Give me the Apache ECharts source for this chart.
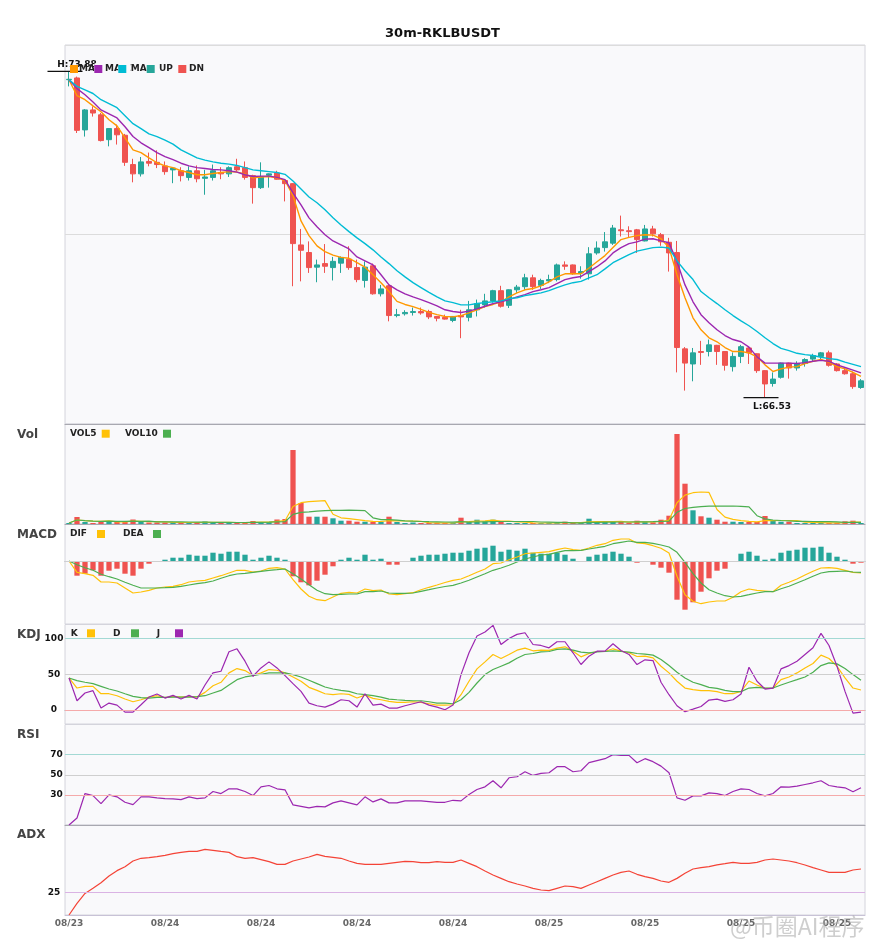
<!DOCTYPE html>
<html>
<head>
<meta charset="utf-8">
<title>30m-RKLBUSDT</title>
<script src="https://cdn.jsdelivr.net/npm/echarts@6/dist/echarts.min.js"></script>
<style>
html,body{margin:0;padding:0;background:#fff;}
#chart{width:885px;height:950px;}
</style>
</head>
<body>
<div id="chart"></div>
<script>
const symbolName = '30m-RKLBUSDT'
const startDay = 23, startHour = 18   // first candle: 08/23 18:00, 30 minute bars

// [open, close, low, high]
const candles = [
[73.69,73.70,73.54,73.88],[73.73,72.55,72.49,73.76],[72.56,73.01,72.41,73.03],[73.01,72.94,72.86,73.09],[72.90,72.32,72.30,72.94],
[72.34,72.59,72.19,72.60],[72.59,72.45,72.23,72.68],[72.44,71.83,71.75,72.47],[71.78,71.57,71.38,71.91],[71.57,71.84,71.51,71.95],
[71.85,71.81,71.74,72.05],[71.83,71.78,71.70,72.10],[71.75,71.62,71.55,71.85],[71.66,71.70,71.36,71.71],[71.64,71.53,71.40,71.72],
[71.49,71.64,71.42,71.74],[71.64,71.46,71.38,71.76],[71.47,71.50,71.10,71.66],[71.49,71.64,71.42,71.78],[71.60,71.57,71.45,71.72],
[71.57,71.71,71.50,71.74],[71.73,71.66,71.62,71.91],[71.71,71.49,71.44,71.85],[71.53,71.26,70.90,71.55],[71.26,71.51,71.23,71.83],
[71.54,71.57,71.26,71.58],[71.59,71.45,71.44,71.64],[71.42,71.35,70.95,71.44],[71.35,70.00,69.04,71.36],[69.97,69.85,69.15,70.33],
[69.80,69.46,69.34,70.05],[69.47,69.52,69.13,69.64],[69.55,69.49,69.34,69.99],[69.46,69.60,69.17,69.70],[69.56,69.69,69.34,69.71],
[69.65,69.46,69.41,69.94],[69.46,69.19,69.13,69.64],[69.17,69.47,69.01,69.60],[69.50,68.87,68.85,69.55],[68.87,68.98,68.81,69.07],
[69.05,68.38,68.25,69.07],[68.38,68.40,68.34,68.53],[68.42,68.45,68.38,68.50],[68.45,68.47,68.38,68.56],[68.47,68.44,68.40,68.56],
[68.47,68.35,68.30,68.51],[68.36,68.32,68.25,68.37],[68.34,68.30,68.29,68.40],[68.27,68.36,68.23,68.37],[68.38,68.35,67.87,68.51],
[68.34,68.51,68.25,68.71],[68.51,68.65,68.36,68.74],[68.62,68.71,68.56,68.87],[68.71,68.94,68.67,68.96],[68.94,68.59,68.56,69.05],
[68.61,68.96,68.55,68.97],[68.96,69.02,68.89,69.07],[69.03,69.23,68.96,69.32],[69.23,69.03,68.96,69.30],[69.06,69.17,68.98,69.21],
[69.16,69.19,69.11,69.30],[69.19,69.52,69.15,69.55],[69.52,69.49,69.41,69.60],[69.52,69.32,69.30,69.53],[69.34,69.37,69.21,69.49],
[69.32,69.77,69.19,69.92],[69.79,69.90,69.75,70.05],[69.91,70.04,69.82,70.26],[70.01,70.35,69.97,70.42],[70.31,70.29,70.16,70.63],
[70.29,70.27,70.15,70.39],[70.31,70.09,69.79,70.33],[70.06,70.33,70.05,70.42],[70.33,70.22,70.16,70.40],[70.20,70.04,69.95,70.24],
[70.03,69.79,69.37,70.13],[69.80,67.66,67.10,70.06],[67.63,67.31,66.69,67.67],[67.29,67.54,66.90,67.65],[67.57,67.55,67.27,67.81],
[67.57,67.72,67.46,67.84],[67.71,67.57,67.27,67.72],[67.57,67.26,67.14,67.58],[67.23,67.46,67.12,67.55],[67.46,67.68,67.31,67.72],
[67.65,67.54,67.29,67.68],[67.52,67.14,67.09,67.53],[67.14,66.84,66.53,67.15],[66.85,66.95,66.78,67.10],[66.99,67.31,66.96,67.32],
[67.31,67.20,66.96,67.32],[67.20,67.30,67.14,67.35],[67.30,67.39,67.23,67.42],[67.40,67.48,67.35,67.52],[67.46,67.54,67.39,67.56],
[67.54,67.26,67.23,67.59],[67.29,67.14,67.12,67.31],[67.14,67.07,67.05,67.20],[67.07,66.78,66.73,67.12],[66.76,66.91,66.73,66.95]
]

const ma5 = [73.69,73.33,73.24,73.10,72.97,72.79,72.65,72.38,72.11,72.05,71.93,71.82,71.75,71.71,71.64,71.60,71.55,71.55,71.58,71.60,
71.62,71.61,71.57,71.48,71.50,71.51,71.48,71.42,71.08,70.51,70.18,69.95,69.82,69.74,69.69,69.67,69.57,69.47,69.30,69.12,
68.92,68.70,68.63,68.58,68.52,68.45,68.40,68.36,68.35,68.38,68.44,68.51,68.58,68.63,68.69,68.80,68.89,68.96,68.99,69.05,
69.14,69.25,69.32,69.32,69.32,69.45,69.59,69.73,69.91,70.09,70.14,70.18,70.20,70.19,70.11,69.91,69.30,68.78,68.33,68.06,
67.88,67.79,67.66,67.57,67.57,67.54,67.45,67.27,67.12,67.18,67.22,67.23,67.30,67.35,67.39,67.33,67.23,67.18,67.10,67.01]
const ma10 = [73.69,73.49,73.35,73.19,73.01,72.92,72.83,72.63,72.41,72.27,72.16,72.05,71.96,71.89,71.81,71.75,71.71,71.69,71.67,71.66,
71.64,71.61,71.55,71.51,71.52,71.52,71.49,71.44,71.14,70.87,70.58,70.38,70.20,70.06,69.97,69.88,69.70,69.61,69.52,69.30,
69.07,68.96,68.87,68.80,68.74,68.67,68.60,68.51,68.47,68.45,68.48,68.53,68.59,68.65,68.69,68.74,68.80,68.85,68.92,68.96,
69.01,69.10,69.19,69.23,69.26,69.37,69.48,69.61,69.79,69.91,70.00,70.04,70.10,70.11,70.06,70.02,69.59,69.07,68.69,68.40,
68.22,68.06,67.93,67.84,67.79,67.67,67.45,67.31,67.31,67.31,67.31,67.30,67.32,67.35,67.37,67.35,67.27,67.21,67.15,67.09]
const ma20 = [73.69,73.54,73.46,73.38,73.24,73.15,73.06,72.88,72.70,72.59,72.47,72.41,72.33,72.24,72.11,72.02,71.93,71.88,71.84,71.81,
71.79,71.76,71.71,71.66,71.64,71.62,71.60,71.56,71.41,71.23,71.05,70.92,70.76,70.58,70.42,70.27,70.13,70.00,69.86,69.70,
69.55,69.39,69.25,69.12,69.01,68.90,68.80,68.71,68.67,68.62,68.62,68.65,68.67,68.69,68.71,68.76,68.78,68.83,68.86,68.89,
68.94,69.01,69.07,69.12,69.15,69.23,69.30,69.43,69.57,69.66,69.75,69.83,69.87,69.91,69.92,69.90,69.61,69.39,69.19,68.92,
68.78,68.65,68.51,68.38,68.26,68.15,68.02,67.88,67.75,67.64,67.59,67.53,67.50,67.48,67.44,67.41,67.39,67.33,67.28,67.23]

const volume = [1,7,2,1,2.5,3,2,2,4.5,2,1.5,1.5,1.5,1.5,1.5,1.5,1.5,2.5,1.5,1,
1.5,1,1.5,3,2,2,4.5,5,74,21,7.3,7.3,7.3,5.7,3.3,3.3,2.3,2.3,2.3,2.3,
7.3,2,1,1.5,1,1,1,1,1,6.3,2,4.3,2.5,4.3,2,1,1,1,1,1,
1,1,2.3,1,1,5.3,2,2,2,2,1.3,3.3,2,1.7,4.3,8.3,90,40.3,13.7,7.7,
6.3,4.3,2.3,2.3,2,2,2,8,3,2.3,2.3,1,1,1,1.3,1,1,2.7,3.3,1]
const vol5 = [1,4,3.3,2.8,2.7,3.1,2.1,2.1,2.8,2.7,2.4,2.3,2.2,1.6,1.5,1.5,1.5,1.7,1.7,1.6,
1.6,1.5,1.3,1.6,1.8,1.9,2.6,3.3,17.5,21.3,22.4,22.9,23.4,9.7,6.2,5.4,4.4,3.4,2.7,2.5,
3.3,3.2,3.0,2.8,2.6,1.3,1.1,1.1,1,2.1,2.3,2.9,3.2,3.9,3.0,2.8,2.2,1.9,1.2,1,
1,1,1.3,1.3,1.3,2.1,2.3,2.3,2.5,2.7,1.9,2.1,2.1,2.1,2.5,3.9,21.3,28.9,31.3,32,
31.6,14.5,6.9,4.6,3.4,2.6,2.1,3.3,3.4,3.5,3.5,3.3,1.9,1.5,1.3,1.1,1.1,1.4,1.9,1.8]
const vol10 = [1,4,3.3,2.8,2.7,2.8,2.6,2.6,2.8,2.7,2.8,2.2,2.2,2.2,2.1,2,1.9,2,1.7,1.6,
1.6,1.5,1.5,1.7,1.7,1.8,2.1,2.3,9.6,11.6,12.1,12.8,13.3,13.6,13.7,13.9,13.7,13.4,6.2,4.3,
4.3,3.8,3.2,2.8,2.5,2.3,2.2,2,1.9,2.3,1.8,2,2.2,2.4,2.5,2.5,2.5,2.5,2.5,2,
1.9,1.6,1.6,1.2,1.1,1.6,1.7,1.8,1.9,2,2,2.2,2.2,2.3,2.6,2.9,11.7,15.5,16.7,17.3,
17.8,17.9,17.9,18,17.7,17.1,8.3,5.1,4,3.5,3.1,2.7,2.6,2.5,2.4,2.3,2.2,1.7,1.7,1.6]

const dif = [0,-0.113,-0.127,-0.143,-0.21,-0.21,-0.22,-0.27,-0.32,-0.31,-0.293,-0.27,-0.26,-0.253,-0.237,-0.21,-0.2,-0.193,-0.17,-0.147,
-0.12,-0.093,-0.093,-0.11,-0.1,-0.073,-0.067,-0.08,-0.187,-0.28,-0.353,-0.387,-0.397,-0.36,-0.323,-0.313,-0.32,-0.28,-0.297,-0.29,
-0.33,-0.337,-0.327,-0.317,-0.287,-0.263,-0.24,-0.215,-0.193,-0.18,-0.147,-0.113,-0.08,-0.027,-0.02,0.013,0.04,0.073,0.08,0.087,
0.093,0.113,0.13,0.113,0.107,0.13,0.157,0.173,0.207,0.22,0.22,0.18,0.173,0.153,0.127,0.08,-0.153,-0.337,-0.403,-0.427,
-0.41,-0.4,-0.4,-0.363,-0.307,-0.28,-0.293,-0.3,-0.307,-0.243,-0.213,-0.18,-0.14,-0.103,-0.07,-0.067,-0.073,-0.093,-0.113,-0.12]
const dea = [0,-0.037,-0.067,-0.093,-0.133,-0.157,-0.18,-0.213,-0.243,-0.27,-0.27,-0.27,-0.267,-0.263,-0.253,-0.24,-0.227,-0.217,-0.2,-0.173,
-0.147,-0.13,-0.123,-0.113,-0.103,-0.093,-0.087,-0.08,-0.127,-0.18,-0.237,-0.293,-0.327,-0.337,-0.333,-0.33,-0.33,-0.307,-0.307,-0.3,
-0.32,-0.323,-0.323,-0.32,-0.303,-0.287,-0.27,-0.255,-0.243,-0.22,-0.193,-0.16,-0.127,-0.093,-0.07,-0.043,-0.01,0.02,0.04,0.06,
0.067,0.087,0.103,0.103,0.107,0.12,0.133,0.147,0.173,0.187,0.2,0.187,0.187,0.177,0.16,0.14,0.087,-0.013,-0.127,-0.22,
-0.287,-0.32,-0.347,-0.36,-0.353,-0.337,-0.32,-0.307,-0.307,-0.277,-0.253,-0.22,-0.187,-0.153,-0.12,-0.107,-0.103,-0.1,-0.11,-0.113]
const macdHist = [0,-0.147,-0.127,-0.093,-0.147,-0.097,-0.077,-0.127,-0.147,-0.077,-0.027,0,0.013,0.033,0.033,0.063,0.053,0.053,0.083,0.073,
0.093,0.093,0.063,0.013,0.033,0.053,0.033,0.013,-0.153,-0.213,-0.243,-0.197,-0.137,-0.053,0.013,0.033,0.013,0.063,0.013,0.023,
-0.037,-0.037,-0.007,0.033,0.053,0.063,0.063,0.073,0.083,0.083,0.103,0.123,0.133,0.153,0.093,0.113,0.103,0.123,0.083,0.073,
0.073,0.083,0.063,0.023,0,0.043,0.063,0.073,0.093,0.073,0.043,-0.017,-0.007,-0.037,-0.067,-0.117,-0.387,-0.487,-0.413,-0.307,
-0.173,-0.097,-0.077,-0.007,0.073,0.093,0.053,0.013,0.023,0.083,0.103,0.113,0.133,0.133,0.143,0.083,0.043,0.013,-0.027,-0.017]

const kLine = [44.8,30.6,33,33,22.6,22.6,19.8,15.1,11.3,14.1,17.9,19.8,17,18.9,17.9,18.9,17.9,24.5,33.9,38.7,
51.9,58,55.2,48.1,51.9,56.6,55.6,51.9,46.2,40.1,31.6,27.3,22.6,21.2,22.6,21.7,16.5,20.7,16,14.1,
11.8,10.4,10.4,11.3,10.4,8.5,6.6,6.6,7.1,21.2,40.1,57.5,67.4,77.8,72.1,77.8,83.9,86.8,83,83.9,
83.5,86.8,88.6,82.5,74.5,79.2,82,82,85.8,82.5,80.2,75,75.4,73.1,61.3,51.9,40.1,30.6,28.3,26.9,
26.9,25.5,22.6,22.6,25.9,40.5,34.9,30.2,30.6,42.4,46.2,51.9,58.9,65.1,76.9,72.1,61.3,44.8,30.6,27.8]
const dLine = [44.8,41,38.7,36.8,33,29.2,26.4,22.6,18.9,17,16.5,17.4,17.4,17.9,17.9,17.9,18.4,19.8,23.6,27.3,
34.9,42.4,46.2,48.1,50,51.9,51.9,51.9,49.5,46.2,41.5,36.8,32.1,29.2,27.3,25.9,22.6,21.2,19.8,17.9,
15.1,14.1,13.2,12.7,12.7,11.3,9.4,9.4,8.5,14.1,24.5,37.7,49.5,56.6,61.3,66,72.6,77.8,79.2,81.6,
82,84.9,85.8,83.9,81.1,80.2,81.6,82,83,82,81.1,79.2,78.3,76.9,70.7,62.2,52.8,44.8,38.7,35.4,
31.6,30.2,27.3,25.5,25.5,30.6,31.6,30.6,30.6,34.9,38.7,42.4,46.2,52.8,62.2,66,64.6,58,49.5,41.5]
const jLine = [44.8,12.7,23.6,26.9,2.4,9.4,6.6,-3.3,-3.3,7.1,17.9,22.2,16.5,20.3,15.1,20.3,15.1,34.9,51.9,54.2,
81.6,85.8,68.4,47.2,58.9,67.4,58.9,48.1,36.8,25.9,9.4,5.7,3.8,8,14.1,12.7,3.8,22.6,6.6,8,
2.4,2.4,5.7,8.5,11.3,6.6,3.8,0,6.6,49.5,80.2,103.7,109.4,118.8,91.9,100.4,106.1,108.4,91.9,90.5,
87.2,95.7,95.7,80.2,63.7,75.4,82.5,82.5,92.9,83.5,77.8,63.7,70.3,69.3,38.7,21.2,5.7,-2.8,0.9,4.7,
13.7,15.1,11.8,14.1,22.2,59.9,40.1,29.2,30.6,57.5,62.2,68.4,77.8,87.2,107.5,90.5,61.3,25.9,-4.7,-3.3]

const rsi = [0,7,31.3,29.3,21.3,30,28,22.6,20.3,28,28,27,26.3,26,25.3,28,26.3,27,33.3,31.3,
36,36,33.3,29.3,38,39.3,36,35,20,18.6,17,18.6,18,22,24,22,20,28,23,26,
22,22,24,24,24,23.3,22.6,22.6,24.6,24,30.3,35.3,38,44,37,47,48,53,49.3,51.3,
52,58,58,53,54,62,64,66,70,69.3,69.3,62,66,63,58.6,52,27,24.6,29,29,
32,31.3,29.3,33.3,36,35.3,31.3,29,31.3,38,37.6,38.6,40.3,42,44,39.3,38,37,33,37]

const adx = [0,13,24,29.6,35.9,43.3,49.3,53.7,60,63,63.7,64.8,66.3,68.1,69.6,70.7,70.7,73,71.9,70.7,
69.6,64.8,63,63.7,61.5,59.3,56.3,56.3,60,62.2,64.4,67.4,65.2,64.1,63,60,57.4,56.3,56.3,56.3,
57.4,58.5,59.6,59.3,58.1,58.1,59.3,58.5,58.5,61.1,57.4,53.7,48.9,44.4,40.7,37,34.4,32.2,29.6,27.8,
27,29.6,32.2,31.5,29.6,33.3,37,40.7,44.4,47.4,48.9,45.2,42.6,40.7,37.8,36.3,40.7,46.3,51.1,52.6,
53.7,55.6,57,58.5,57.4,57.4,58.5,61.1,62.2,61.1,60,58.1,55.6,52.6,50,47.4,47.4,47.4,50,51.1]

const kdjLevels = [100, 50, 0]
const rsiLevels = [70, 50, 30]
const adxLevels = [25]

// bar times, 'MM/DD HH:mm'
const times = []
for (let i = 0; i < candles.length; i++) {
  const m = startHour * 60 + i * 30
  const day = startDay + Math.floor(m / 1440)
  const mm = m % 1440
  times.push('08/' + day + ' ' + String(Math.floor(mm / 60)).padStart(2, '0') + ':' + (mm % 60 ? '30' : '00'))
}

const UP = '#26A69A', DN = '#EF5350'
const C_MA5 = '#FF9800', C_MA10 = '#9C27B0', C_MA20 = '#00BCD4'
const C_YEL = '#FFC107', C_GRN = '#4CAF50', C_PUR = '#9C27B0', C_ADX = '#F44336'
const PLOT_BG = '#f9f9fb'
const FONT = '"DejaVu Sans", sans-serif'

// high / low markers
let hiIdx = 0, loIdx = 0
candles.forEach((d, i) => {
  if (d[3] > candles[hiIdx][3]) hiIdx = i
  if (d[2] < candles[loIdx][2]) loIdx = i
})
const hi = candles[hiIdx][3], lo = candles[loIdx][2]
const pad = (hi - lo) * 0.0805
const priceMin = lo - pad, priceMax = hi + pad

const gridBox = [
  {top: 45, height: 379},
  {top: 424, height: 100},
  {top: 524, height: 100},
  {top: 624.5, height: 99.5},
  {top: 724.5, height: 100.5},
  {top: 825, height: 90}
]
const grids = gridBox.map(g => ({
  left: 65, right: 20, top: g.top, height: g.height,
  show: true, backgroundColor: PLOT_BG, borderColor: '#d4d4dc', borderWidth: 1
}))

const xAxes = grids.map((g, i) => ({
  type: 'category', gridIndex: i, data: times, boundaryGap: true,
  axisLine: {show: true, lineStyle: {color: i === 5 ? '#c8c2d6' : '#a8a8b0'}},
  axisTick: {show: false},
  splitLine: {show: false},
  axisLabel: i === 5
    ? {show: true, interval: 11, formatter: v => v.slice(0, 5), color: '#666', fontWeight: 'bold', fontSize: 9, margin: 4, fontFamily: FONT}
    : {show: false}
}))

const hiddenAxis = {axisLine: {show: false}, axisTick: {show: false}, axisLabel: {show: false}, splitLine: {show: false}}
const levelLabel = (vals, margin) => ({
  show: true, customValues: vals, align: 'center', margin: margin,
  color: '#111', fontWeight: 'bold', fontSize: 9, fontFamily: FONT
})
const yAxes = [
  {type: 'value', gridIndex: 0, min: priceMin, max: priceMax, interval: (priceMax - priceMin) / 2, scale: true,
    axisLine: {show: false}, axisTick: {show: false}, axisLabel: {show: false},
    splitLine: {show: true, lineStyle: {color: '#dcdcdc'}}},
  Object.assign({type: 'value', gridIndex: 1, min: 0, max: 100}, hiddenAxis),
  Object.assign({type: 'value', gridIndex: 2, min: -0.63, max: 0.37}, hiddenAxis),
  Object.assign({type: 'value', gridIndex: 3, min: -20, max: 120}, hiddenAxis, {axisLabel: levelLabel(kdjLevels, 11)}),
  Object.assign({type: 'value', gridIndex: 4, min: 0, max: 100}, hiddenAxis, {axisLabel: levelLabel(rsiLevels, 8.5)}),
  Object.assign({type: 'value', gridIndex: 5, min: 0, max: 100}, hiddenAxis, {axisLabel: levelLabel(adxLevels, 11)})
]

function line(name, data, color, idx, width) {
  return {
    name, type: 'line', xAxisIndex: idx, yAxisIndex: idx, data,
    symbol: 'none', silent: true,
    lineStyle: {color, width: width || 1.2}, itemStyle: {color}
  }
}
// horizontal level lines for the oscillators
const levelColor = {100: '#a3d9d4', 70: '#a3d9d4', 50: '#cfcfcf', 0: '#f5aaaa', 30: '#f5aaaa', 25: '#dab3e4'}
function levels(vals) {
  return {
    silent: true, symbol: 'none', animation: false,
    label: {show: false},
    data: vals.map(v => ({yAxis: v, lineStyle: {color: levelColor[v], type: 'solid', width: 1}}))
  }
}

const markLabel = {show: true, color: '#111', fontWeight: 'bold', fontSize: 9, fontFamily: FONT}

const series = [
  {
    name: 'K', type: 'candlestick', xAxisIndex: 0, yAxisIndex: 0, data: candles,
    barWidth: '70%', silent: true,
    itemStyle: {color: UP, color0: DN, borderColor: UP, borderColor0: DN, borderWidth: 1},
    markPoint: {
      silent: true, animation: false,
      symbol: 'rect', symbolSize: [35, 1.2],
      itemStyle: {color: '#111'},
      data: [
        {coord: [hiIdx, hi], symbolOffset: [-4, 0],
          label: Object.assign({}, markLabel, {formatter: 'H:' + hi.toFixed(2), position: 'top', distance: 2, offset: [12, 0]})},
        {coord: [loIdx, lo], symbolOffset: [-4, 0],
          label: Object.assign({}, markLabel, {formatter: 'L:' + lo.toFixed(2), position: 'bottom', distance: 4, offset: [11, 0]})}
      ]
    }
  },
  line('MA5', ma5, C_MA5, 0, 1.4),
  line('MA10', ma10, C_MA10, 0, 1.4),
  line('MA20', ma20, C_MA20, 0, 1.4),

  {
    name: 'Vol', type: 'bar', xAxisIndex: 1, yAxisIndex: 1, barWidth: '66%', silent: true,
    data: volume.map((v, i) => ({value: v, itemStyle: {color: candles[i][1] >= candles[i][0] ? UP : DN}}))
  },
  line('VOL5', vol5, C_YEL, 1),
  line('VOL10', vol10, C_GRN, 1),

  {
    name: 'MACD', type: 'bar', xAxisIndex: 2, yAxisIndex: 2, barWidth: '66%', silent: true,
    data: macdHist.map(v => ({value: v, itemStyle: {color: v >= 0 ? UP : DN}})),
    markLine: {silent: true, symbol: 'none', animation: false, label: {show: false},
      data: [{yAxis: 0, lineStyle: {color: '#cfcfcf', type: 'solid', width: 1}}]}
  },
  line('DIF', dif, C_YEL, 2),
  line('DEA', dea, C_GRN, 2),

  Object.assign(line('K', kLine, C_YEL, 3), {markLine: levels(kdjLevels)}),
  line('D', dLine, C_GRN, 3),
  line('J', jLine, C_PUR, 3),

  Object.assign(line('RSI', rsi, C_PUR, 4), {markLine: levels(rsiLevels)}),

  Object.assign(line('ADX', adx, C_ADX, 5), {markLine: levels(adxLevels)})
]

// legends: [text, textX, iconX, centerY, color, packed]
// the price legend is packed tight: each swatch sits over the tail of the previous label
const legends = [
  ['MA5', 79, 70, 69, C_MA5, false], ['MA10', 105, 94.3, 69, C_MA10, true], ['MA20', 130.7, 118.3, 69, C_MA20, true],
  ['UP', 159, 146.7, 69, UP, true], ['DN', 189, 178.3, 69, DN, true],
  ['VOL5', 70, 101.7, 433.7, C_YEL, false], ['VOL10', 125, 163, 433.7, C_GRN, false],
  ['DIF', 70, 97, 534, C_YEL, false], ['DEA', 123, 153, 534, C_GRN, false],
  ['K', 70.7, 87, 633.3, C_YEL, false], ['D', 113, 131, 633.3, C_GRN, false], ['J', 156.7, 175, 633.3, C_PUR, false]
]
const panelNames = [['Vol', 435], ['MACD', 534.5], ['KDJ', 634.5], ['RSI', 735], ['ADX', 835]]

const graphic = []
legends.forEach((l, n) => graphic.push({
  type: 'text', z: 100, z2: n, silent: true,
  style: Object.assign({text: l[0], x: l[1], y: l[3], fill: '#222', font: 'bold 9px ' + FONT,
    textAlign: 'left', textVerticalAlign: 'middle'}, l[5] ? {backgroundColor: PLOT_BG} : {})
}))
legends.filter(l => l[5]).forEach(l => graphic.push({
  type: 'rect', z: 101, silent: true,
  shape: {x: l[2], y: l[3] - 5.5, width: l[1] - l[2], height: 11}, style: {fill: PLOT_BG}
}))
legends.forEach(l => graphic.push({
  type: 'rect', z: 102, silent: true,
  shape: {x: l[2], y: l[3] - 4, width: 8, height: 8}, style: {fill: l[4]}
}))
panelNames.forEach(p => graphic.push({
  type: 'text', z: 100, silent: true,
  style: {text: p[0], x: 17, y: p[1], fill: '#444', font: 'bold 12px ' + FONT, textAlign: 'left', textVerticalAlign: 'middle'}
}))
graphic.push({
  type: 'text', z: 120, silent: true,
  style: {text: '@币圈AI程序', x: 730, y: 926, fill: 'rgba(165,165,165,0.55)', font: '23px "Noto Sans CJK SC"',
    textAlign: 'left', textVerticalAlign: 'middle'}
})

const option = {
  animation: false,
  backgroundColor: '#fff',
  textStyle: {fontFamily: FONT},
  title: {text: symbolName, left: 'center', top: 27, padding: 0,
    textStyle: {fontSize: 13, fontWeight: 'bold', color: '#111', fontFamily: FONT}},
  grid: grids,
  xAxis: xAxes,
  yAxis: yAxes,
  series: series,
  graphic: graphic
}

const chart = echarts.init(document.getElementById('chart'))
chart.setOption(option)
</script>
</body>
</html>
